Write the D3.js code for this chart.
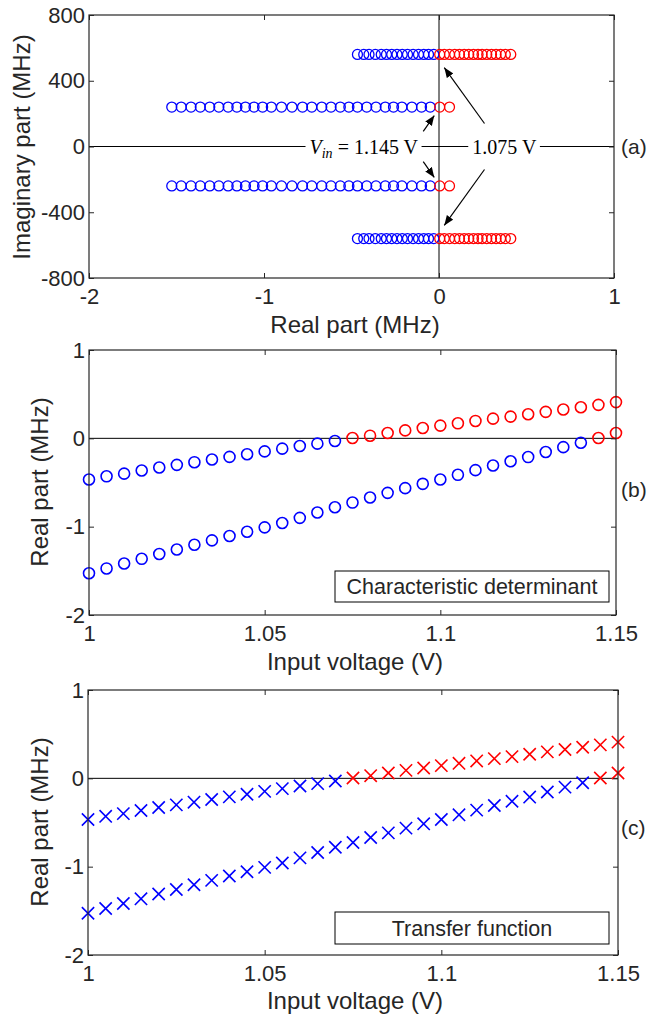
<!DOCTYPE html>
<html>
<head>
<meta charset="utf-8">
<script src="https://cdn.jsdelivr.net/npm/d3@7"></script>
<style>
  body { margin: 0; background: #fff; }
  text { font-family: "Liberation Sans", Arial, sans-serif; fill: #262626; }
  .serif { font-family: "Liberation Serif", "Times New Roman", serif; fill: #000; }
</style>
</head>
<body>
<svg id="fig" width="655" height="1015"></svg>
<script>
// Input voltage sweep (V)
const inputVoltage = [
  1.000, 1.005, 1.010, 1.015, 1.020, 1.025, 1.030, 1.035, 1.040, 1.045,
  1.050, 1.055, 1.060, 1.065, 1.070, 1.075, 1.080, 1.085, 1.090, 1.095,
  1.100, 1.105, 1.110, 1.115, 1.120, 1.125, 1.130, 1.135, 1.140, 1.145, 1.150
];
// Real part (MHz) of the high-frequency pole pair (Im = ±560 MHz)
const realOuter = [
  -0.466, -0.430, -0.400, -0.364, -0.330, -0.300, -0.270, -0.240, -0.210, -0.180,
  -0.148, -0.117, -0.087, -0.060, -0.030, 0.004, 0.030, 0.060, 0.090, 0.117,
  0.144, 0.170, 0.197, 0.223, 0.246, 0.273, 0.300, 0.326, 0.352, 0.379, 0.410
];
// Real part (MHz) of the low-frequency pole pair (Im = ±240 MHz)
const realInner = [
  -1.527, -1.473, -1.417, -1.364, -1.310, -1.258, -1.205, -1.155, -1.106, -1.057,
  -1.008, -0.958, -0.900, -0.840, -0.780, -0.727, -0.670, -0.617, -0.564, -0.515,
  -0.466, -0.413, -0.360, -0.307, -0.260, -0.212, -0.155, -0.100, -0.050, 0.004, 0.060
];
// Imaginary parts (MHz) of the two conjugate pairs
const imagOuter = [560, -560];
const imagInner = [240, -240];

// Tick values
const xTicksA = [-2, -1, 0, 1];
const yTicksA = [800, 400, 0, -400, -800];
const xTicksV = [1, 1.05, 1.1, 1.15];
const yTicksV = [1, 0, -1, -2];

const BLUE = "#0000ff", RED = "#ff0000", AX = "#262626";
const colorOf = v => (v >= 0 ? RED : BLUE);

const svg = d3.select("#fig");

const defs = svg.append("defs");
defs.append("marker")
  .attr("id", "head")
  .attr("markerUnits", "userSpaceOnUse")
  .attr("markerWidth", 12).attr("markerHeight", 10)
  .attr("refX", 10).attr("refY", 4)
  .attr("orient", "auto")
  .append("path").attr("d", "M0,0 L10,4 L0,8 Z").attr("fill", "#000");

// Box with inward ticks on all four sides
function frame(x, y, xt, yt) {
  const [x0, x1] = x.range();
  const [y0, y1] = y.range(); // y0 bottom, y1 top
  const fmt = d => String(d);
  const g = svg.append("g");
  g.append("g").attr("transform", `translate(0,${y0})`)
    .call(d3.axisBottom(x).tickValues(xt).tickSize(-5).tickPadding(10).tickFormat(fmt));
  g.append("g").attr("transform", `translate(0,${y1})`)
    .call(d3.axisTop(x).tickValues(xt).tickSize(-5).tickFormat(""));
  g.append("g").attr("transform", `translate(${x0},0)`)
    .call(d3.axisLeft(y).tickValues(yt).tickSize(-5).tickPadding(4).tickFormat(fmt));
  g.append("g").attr("transform", `translate(${x1},0)`)
    .call(d3.axisRight(y).tickValues(yt).tickSize(-5).tickFormat(""));
  g.selectAll(".domain").remove();
  g.selectAll(".tick line").attr("stroke", AX).attr("stroke-width", 1);
  g.selectAll(".tick text").style("font-size", "22px")
    .style("font-family", '"Liberation Sans", Arial, sans-serif').attr("fill", AX);
  g.append("rect")
    .attr("x", x0).attr("y", y1).attr("width", x1 - x0).attr("height", y0 - y1)
    .attr("fill", "none").attr("stroke", AX).attr("stroke-width", 1.2);
  return g;
}

function yLabel(txt, xBase, yCenter) {
  svg.append("text")
    .attr("transform", `translate(${xBase},${yCenter}) rotate(-90)`)
    .attr("text-anchor", "middle").style("font-size", "24px").text(txt);
}
function xLabel(txt, xCenter, yBase) {
  svg.append("text").attr("x", xCenter).attr("y", yBase)
    .attr("text-anchor", "middle").style("font-size", "24px").text(txt);
}
function tag(txt, xPos, yBase) {
  svg.append("text").attr("x", xPos).attr("y", yBase).style("font-size", "21px").text(txt);
}

// ---------- (a) pole locations in the complex plane ----------
const xA = d3.scaleLinear().domain([-2, 1]).range([89, 614]);
const yA = d3.scaleLinear().domain([-800, 800]).range([278, 15]);

const polesA = [];
imagOuter.forEach(im => realOuter.forEach(re => polesA.push({ re, im })));
imagInner.forEach(im => realInner.forEach(re => polesA.push({ re, im })));
polesA.sort((a, b) => (a.re >= 0) - (b.re >= 0));

// axes through the origin
svg.append("line").attr("x1", xA(-2)).attr("x2", xA(1)).attr("y1", yA(0)).attr("y2", yA(0))
  .attr("stroke", "#000").attr("stroke-width", 1);
svg.append("line").attr("x1", xA(0)).attr("x2", xA(0)).attr("y1", yA(800)).attr("y2", yA(-800))
  .attr("stroke", "#000").attr("stroke-width", 1);

svg.append("g").selectAll("circle").data(polesA).join("circle")
  .attr("cx", d => xA(d.re)).attr("cy", d => yA(d.im)).attr("r", 5)
  .attr("fill", "none").attr("stroke", d => colorOf(d.re)).attr("stroke-width", 1.3);

// annotation labels with white backing over the zero line
const lab1 = svg.append("text").attr("class", "serif")
  .attr("x", xA(-0.12)).attr("y", yA(0) + 7).attr("text-anchor", "end").style("font-size", "20px");
lab1.append("tspan").style("font-style", "italic").text("V");
lab1.append("tspan").style("font-style", "italic").style("font-size", "14px").attr("dy", 4).text("in");
lab1.append("tspan").attr("dy", -4).text(" = 1.145 V");
const lab2 = svg.append("text").attr("class", "serif")
  .attr("x", xA(0.19)).attr("y", yA(0) + 7).style("font-size", "20px").text("1.075 V");
[lab1, lab2].forEach(t => {
  const b = t.node().getBBox();
  svg.insert("rect", function () { return t.node(); })
    .attr("x", b.x - 4).attr("y", b.y + 3).attr("width", b.width + 7).attr("height", b.height - 6)
    .attr("fill", "#fff");
});

// arrows
const arrows = [
  [[0.26, 140], [0.03, 480]],
  [[0.26, -140], [0.03, -480]],
  [[-0.09, 92], [-0.027, 188]],
  [[-0.09, -92], [-0.027, -188]]
];
svg.append("g").selectAll("line").data(arrows).join("line")
  .attr("x1", d => xA(d[0][0])).attr("y1", d => yA(d[0][1]))
  .attr("x2", d => xA(d[1][0])).attr("y2", d => yA(d[1][1]))
  .attr("stroke", "#000").attr("stroke-width", 1.2).attr("marker-end", "url(#head)");

frame(xA, yA, xTicksA, yTicksA);
yLabel("Imaginary part (MHz)", 30, 147);
xLabel("Real part (MHz)", 355, 333);
tag("(a)", 621, 154);

// ---------- (b) characteristic determinant ----------
const xB = d3.scaleLinear().domain([1, 1.15]).range([89, 616]);
const yB = d3.scaleLinear().domain([-2, 1]).range([615, 350]);

svg.append("line").attr("x1", xB(1)).attr("x2", xB(1.15)).attr("y1", yB(0)).attr("y2", yB(0))
  .attr("stroke", "#000").attr("stroke-width", 1);

const seriesB = [];
[realOuter, realInner].forEach(arr => arr.forEach((v, i) => seriesB.push({ v: inputVoltage[i], re: v })));

svg.append("g").selectAll("circle").data(seriesB).join("circle")
  .attr("cx", d => xB(d.v)).attr("cy", d => yB(d.re)).attr("r", 5.5)
  .attr("fill", "none").attr("stroke", d => colorOf(d.re)).attr("stroke-width", 1.6);

frame(xB, yB, xTicksV, yTicksV);
svg.append("rect").attr("x", 335).attr("y", 571).attr("width", 274).attr("height", 31)
  .attr("fill", "#fff").attr("stroke", "#000").attr("stroke-width", 1);
svg.append("text").attr("x", 472).attr("y", 594).attr("text-anchor", "middle")
  .style("font-size", "21.5px").attr("fill", "#000").text("Characteristic determinant");
yLabel("Real part (MHz)", 48, 482);
xLabel("Input voltage (V)", 355, 670);
tag("(b)", 621, 497);

// ---------- (c) transfer function ----------
const xC = d3.scaleLinear().domain([1, 1.15]).range([88, 618]);
const yC = d3.scaleLinear().domain([-2, 1]).range([955, 690]);

svg.append("line").attr("x1", xC(1)).attr("x2", xC(1.15)).attr("y1", yC(0)).attr("y2", yC(0))
  .attr("stroke", "#000").attr("stroke-width", 1);

const cross = d3.symbol().type(d3.symbolX).size(100);
svg.append("g").selectAll("path").data(seriesB).join("path")
  .attr("transform", d => `translate(${xC(d.v)},${yC(d.re)})`)
  .attr("d", cross)
  .attr("fill", "none").attr("stroke", d => colorOf(d.re)).attr("stroke-width", 1.6);

frame(xC, yC, xTicksV, yTicksV);
svg.append("rect").attr("x", 335).attr("y", 912).attr("width", 274).attr("height", 32)
  .attr("fill", "#fff").attr("stroke", "#000").attr("stroke-width", 1);
svg.append("text").attr("x", 472).attr("y", 936).attr("text-anchor", "middle")
  .style("font-size", "21.5px").attr("fill", "#000").text("Transfer function");
yLabel("Real part (MHz)", 48, 822);
xLabel("Input voltage (V)", 355, 1009);
tag("(c)", 621, 835);
</script>
</body>
</html>
